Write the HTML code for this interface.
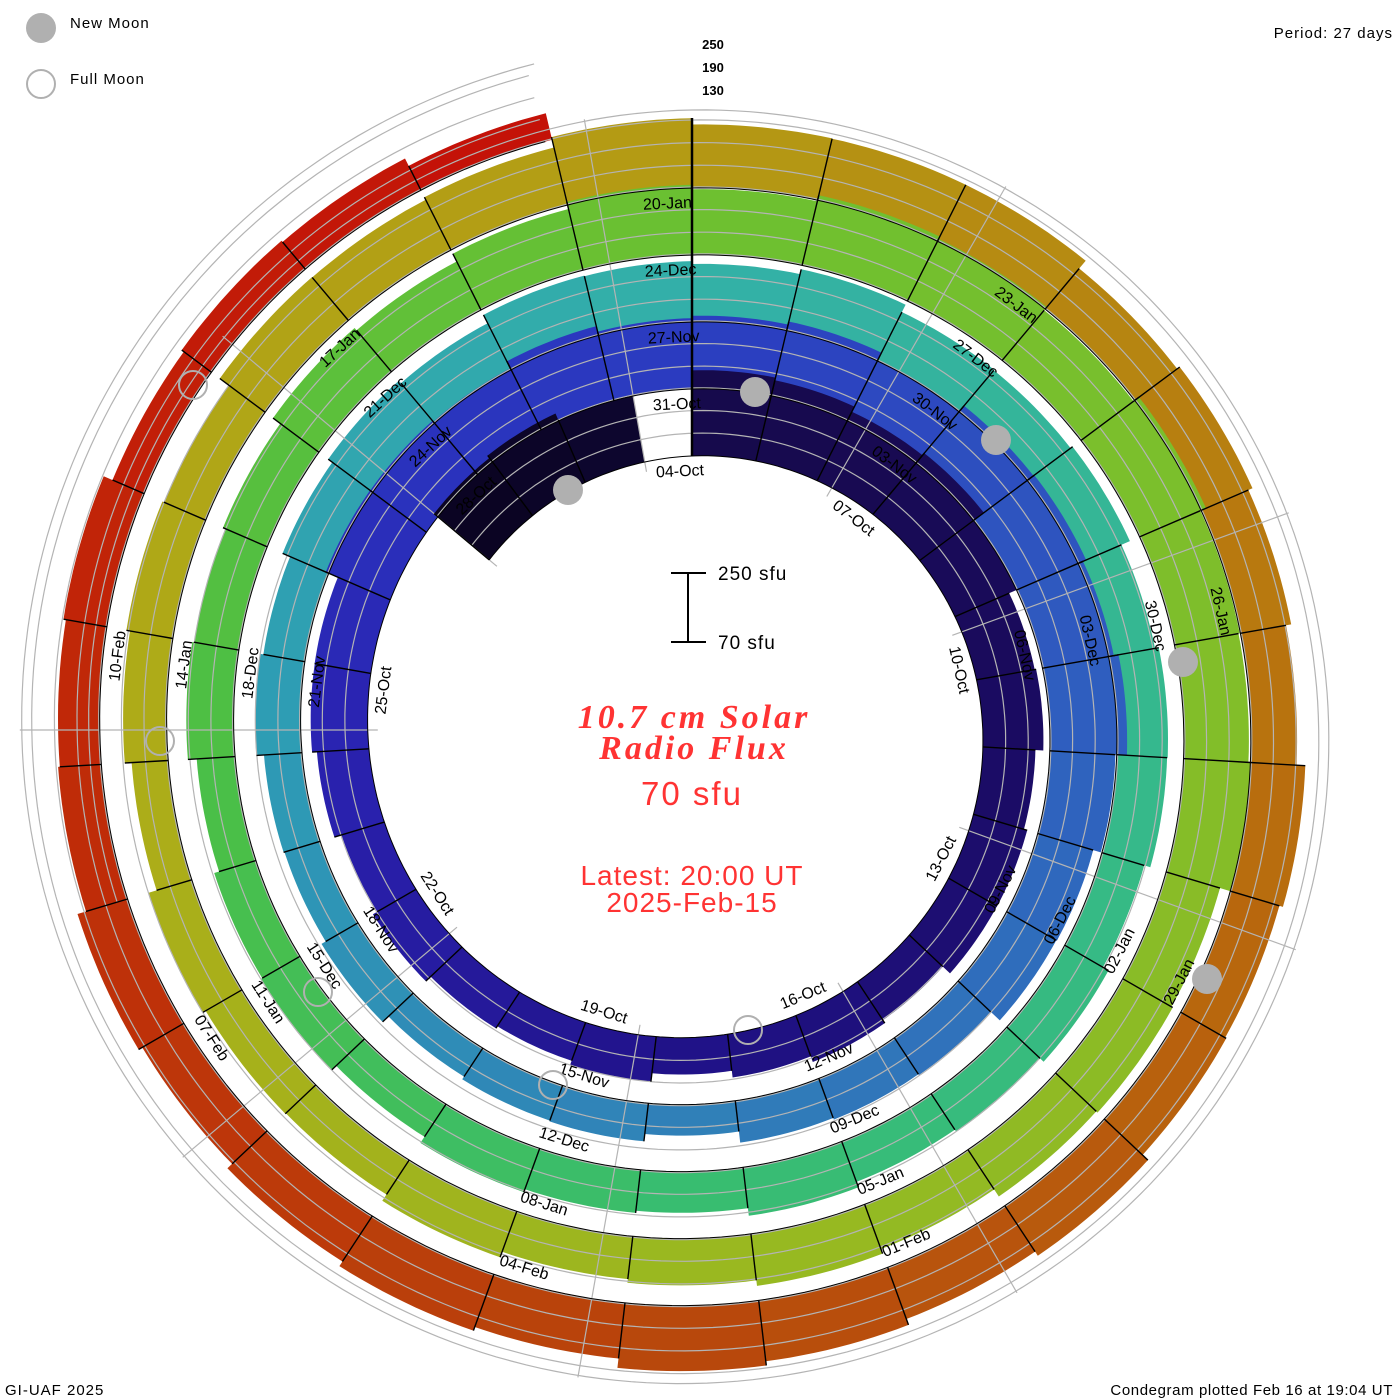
<!DOCTYPE html>
<html><head><meta charset="utf-8"><style>
html,body{margin:0;padding:0;background:#fff;}
svg{display:block;}
.lbl{font-family:"Liberation Sans",sans-serif;font-size:16px;fill:#000;}
</style></head><body>
<svg id="s" width="1400" height="1400" viewBox="0 0 1400 1400" xmlns="http://www.w3.org/2000/svg">
<rect width="1400" height="1400" fill="#fff"/>
<g id="bars"></g>
<g id="grid"></g>
<g id="seps"></g>
<g id="labels" class="lbl">
<text>04-Oct</text><text>07-Oct</text><text>10-Oct</text><text>13-Oct</text><text>16-Oct</text><text>19-Oct</text><text>22-Oct</text><text>25-Oct</text><text>28-Oct</text><text>31-Oct</text>
<text>03-Nov</text><text>06-Nov</text><text>09-Nov</text><text>12-Nov</text><text>15-Nov</text><text>18-Nov</text><text>21-Nov</text><text>24-Nov</text><text>27-Nov</text><text>30-Nov</text>
<text>03-Dec</text><text>06-Dec</text><text>09-Dec</text><text>12-Dec</text><text>15-Dec</text><text>18-Dec</text><text>21-Dec</text><text>24-Dec</text><text>27-Dec</text><text>30-Dec</text>
<text>02-Jan</text><text>05-Jan</text><text>08-Jan</text><text>11-Jan</text><text>14-Jan</text><text>17-Jan</text><text>20-Jan</text><text>23-Jan</text><text>26-Jan</text><text>29-Jan</text>
<text>01-Feb</text><text>04-Feb</text><text>07-Feb</text><text>10-Feb</text>
</g>
<g id="moons">
<circle cx="568" cy="490" r="15" fill="#b0b0b0"/>
<circle cx="755" cy="392" r="15" fill="#b0b0b0"/>
<circle cx="996" cy="440" r="15" fill="#b0b0b0"/>
<circle cx="1183" cy="662" r="15" fill="#b0b0b0"/>
<circle cx="1207" cy="979" r="15" fill="#b0b0b0"/>
<g fill="none" stroke="#b0b0b0" stroke-width="2">
<circle cx="193" cy="385" r="14"/><circle cx="160" cy="741" r="14"/><circle cx="318" cy="992" r="14"/><circle cx="553" cy="1085" r="14"/><circle cx="748" cy="1030" r="14"/>
</g>
</g>
<circle cx="41" cy="28" r="15" fill="#b0b0b0"/>
<circle cx="41" cy="84" r="14" fill="none" stroke="#b0b0b0" stroke-width="2"/>
<g font-family="Liberation Sans, sans-serif" font-size="15" fill="#000">
<text x="70" y="28" letter-spacing="1">New Moon</text>
<text x="70" y="84" letter-spacing="1">Full Moon</text>
<text x="1393" y="38" text-anchor="end" letter-spacing="1">Period: 27 days</text>
<text x="5" y="1395" letter-spacing="1">GI-UAF 2025</text>
<text x="1393" y="1395" text-anchor="end" letter-spacing="0.6">Condegram plotted Feb 16 at 19:04 UT</text>
</g>
<g font-family="Liberation Sans, sans-serif" font-size="13" font-weight="bold" fill="#000" text-anchor="middle">
<text x="713" y="49">250</text><text x="713" y="72">190</text><text x="713" y="95">130</text>
</g>
<g stroke="#000" stroke-width="2">
<line x1="688" y1="573" x2="688" y2="642"/>
<line x1="671" y1="573" x2="706" y2="573"/>
<line x1="671" y1="642" x2="706" y2="642"/>
</g>
<g font-family="Liberation Sans, sans-serif" font-size="19" fill="#000">
<text x="718" y="580" letter-spacing="1">250 sfu</text>
<text x="718" y="649" letter-spacing="1">70 sfu</text>
</g>
<g fill="#ff3333" text-anchor="middle">
<text x="694" y="728" font-family="Liberation Serif, serif" font-style="italic" font-weight="bold" font-size="34" letter-spacing="3">10.7 cm Solar</text>
<text x="694" y="759" font-family="Liberation Serif, serif" font-style="italic" font-weight="bold" font-size="34" letter-spacing="3">Radio Flux</text>
<text x="692" y="805" font-family="Liberation Sans, sans-serif" font-size="33" letter-spacing="2">70 sfu</text>
<text x="692" y="885" font-family="Liberation Sans, sans-serif" font-size="28" letter-spacing="1">Latest: 20:00 UT</text>
<text x="692" y="912" font-family="Liberation Sans, sans-serif" font-size="28" letter-spacing="1">2025-Feb-15</text>
</g>
</svg>
<script>
(function(){
var cx=692,cy=730;
function base(t){return 274+67*t/27;}
function P(r,t){var a=2*Math.PI*t/27;return [cx+r*Math.sin(a),cy-r*Math.cos(a)];}
var TH=[[-3.75,72],[-0.75,72],[0,84],[3,80],[6,57],[9,55],[13.5,40],[17,45],[20,52],[23,70],[27,74],[30,72],[33,77],[37,50],[40.5,35],[44,38],[47,40],[51,55],[54,62],[60,50],[67.5,44],[74,42],[78,55],[81,70],[87,68],[91,55],[94.5,47],[101,40],[105,55],[108,68],[114,49],[118,55],[121.5,63],[128,44],[134,30]];
var CO=[[-3.75,"#0a0420"],[-0.8,"#0d0630"],[0,"#160a4a"],[6,"#1a0b5e"],[13.5,"#201288"],[20,"#2a22b0"],[23,"#2a30bc"],[27,"#2b3cc0"],[33,"#2f5cbf"],[40.5,"#3080b8"],[47,"#2e9bb5"],[54,"#33b0a8"],[60,"#35b890"],[67.5,"#38bd70"],[74,"#4cbf45"],[81,"#6cc030"],[87,"#80be2a"],[94.5,"#9ab820"],[101,"#aeac18"],[108,"#b49a14"],[114,"#b8760e"],[121.5,"#b8480c"],[128,"#c02a08"],[134,"#c41008"]];
function interp(arr,t){if(t<=arr[0][0])return arr[0][1];for(var i=1;i<arr.length;i++){if(t<=arr[i][0]){var f=(t-arr[i-1][0])/(arr[i][0]-arr[i-1][0]);return arr[i-1][1]+f*(arr[i][1]-arr[i-1][1]);}}return arr[arr.length-1][1];}
function hx(h){return [parseInt(h.substr(1,2),16),parseInt(h.substr(3,2),16),parseInt(h.substr(5,2),16)];}
function col(t){var i;for(i=1;i<CO.length;i++)if(t<=CO[i][0])break;if(i>=CO.length)return CO[CO.length-1][1];var a=hx(CO[i-1][1]),b=hx(CO[i][1]);var f=(t-CO[i-1][0])/(CO[i][0]-CO[i-1][0]);f=Math.max(0,Math.min(1,f));return "rgb("+[0,1,2].map(function(k){return Math.round(a[k]+f*(b[k]-a[k]));}).join(",")+")";}
var segs=[];var t=-3.75;
while(t<134){var e=Math.min(t+1,134);if(t<-0.75&&e>-0.75)e=-0.75;segs.push([t,e]);t=e;if(Math.abs(t+0.75)<1e-6){t=0;}}
var html="";var thick=[];
for(var i=segs.length-1;i>=0;i--){
 var a=segs[i][0],b=segs[i][1],m=(a+b)/2;
 var h=interp(TH,m)+(Math.sin(i*2.3)*4);
 thick[i]=h;
 var pts=[],n=12;
 for(var k=0;k<=n;k++){var tt=a+(b-a)*k/n;pts.push(P(base(tt),tt));}
 for(var k=n;k>=0;k--){var tt=a+(b-a)*k/n;pts.push(P(base(tt)+h,tt));}
 html+='<path d="M'+pts.map(function(p){return p[0].toFixed(1)+","+p[1].toFixed(1);}).join("L")+'Z" fill="'+col(m)+'"/>';
}
document.getElementById("bars").innerHTML=html;
var g="";
function spiral(off,t1,t2,stroke,w){var pts=[];for(var tt=t1;tt<=t2;tt+=0.1){pts.push(P(base(tt)+off,tt));}return '<path d="M'+pts.map(function(p){return p[0].toFixed(1)+","+p[1].toFixed(1);}).join("L")+'" fill="none" stroke="'+stroke+'" stroke-width="'+w+'"/>';}
[22.7,45.3,68].forEach(function(o){g+=spiral(o,-3.75,134,"#b4b4b4",1.2);});
g+=spiral(78,100,134,"#b4b4b4",1.2);
for(var ang=30;ang<390;ang+=40){var a=ang*Math.PI/180;var t1=(ang%360)*27/360;if(ang%360>300)t1-=27;var t2=t1+27*4;if(t2>134)t2-=27;var r1=base(t1)-10,r2=base(t2)+80;g+='<line x1="'+(cx+r1*Math.sin(a)).toFixed(1)+'" y1="'+(cy-r1*Math.cos(a)).toFixed(1)+'" x2="'+(cx+r2*Math.sin(a)).toFixed(1)+'" y2="'+(cy-r2*Math.cos(a)).toFixed(1)+'" stroke="#b4b4b4" stroke-width="1.2"/>';}
document.getElementById("grid").innerHTML=g;
var sp="";
for(var i=0;i<segs.length;i++){
 var tt=segs[i][0];
 var p1=P(base(tt),tt),p2=P(base(tt)+thick[i],tt);
 sp+='<line x1="'+p1[0].toFixed(1)+'" y1="'+p1[1].toFixed(1)+'" x2="'+p2[0].toFixed(1)+'" y2="'+p2[1].toFixed(1)+'" stroke="#000" stroke-width="1.4"/>';
}
sp+=spiral(0,-3.75,134,"#000",1);
var q1=P(274,0),q2=P(612,0);
sp+='<line x1="'+q1[0]+'" y1="'+q1[1]+'" x2="'+q2[0]+'" y2="'+q2[1]+'" stroke="#000" stroke-width="2.5"/>';
document.getElementById("seps").innerHTML=sp;
var L=document.getElementById("labels").getElementsByTagName("text");
for(var k=0;k<L.length;k++){
 var tt=3*k-0.2;var r=base(tt)-15;var p=P(r,tt);
 var ang=(360*tt/27)%360;if(ang<0)ang+=360;var rot=(ang>90&&ang<270)?ang-180:ang;
 L[k].setAttribute("x",0);L[k].setAttribute("y",0);
 L[k].setAttribute("text-anchor","middle");L[k].setAttribute("dominant-baseline","central");
 L[k].setAttribute("transform","translate("+p[0].toFixed(1)+","+p[1].toFixed(1)+") rotate("+rot.toFixed(1)+")");
}
})();
</script>
</body></html>
